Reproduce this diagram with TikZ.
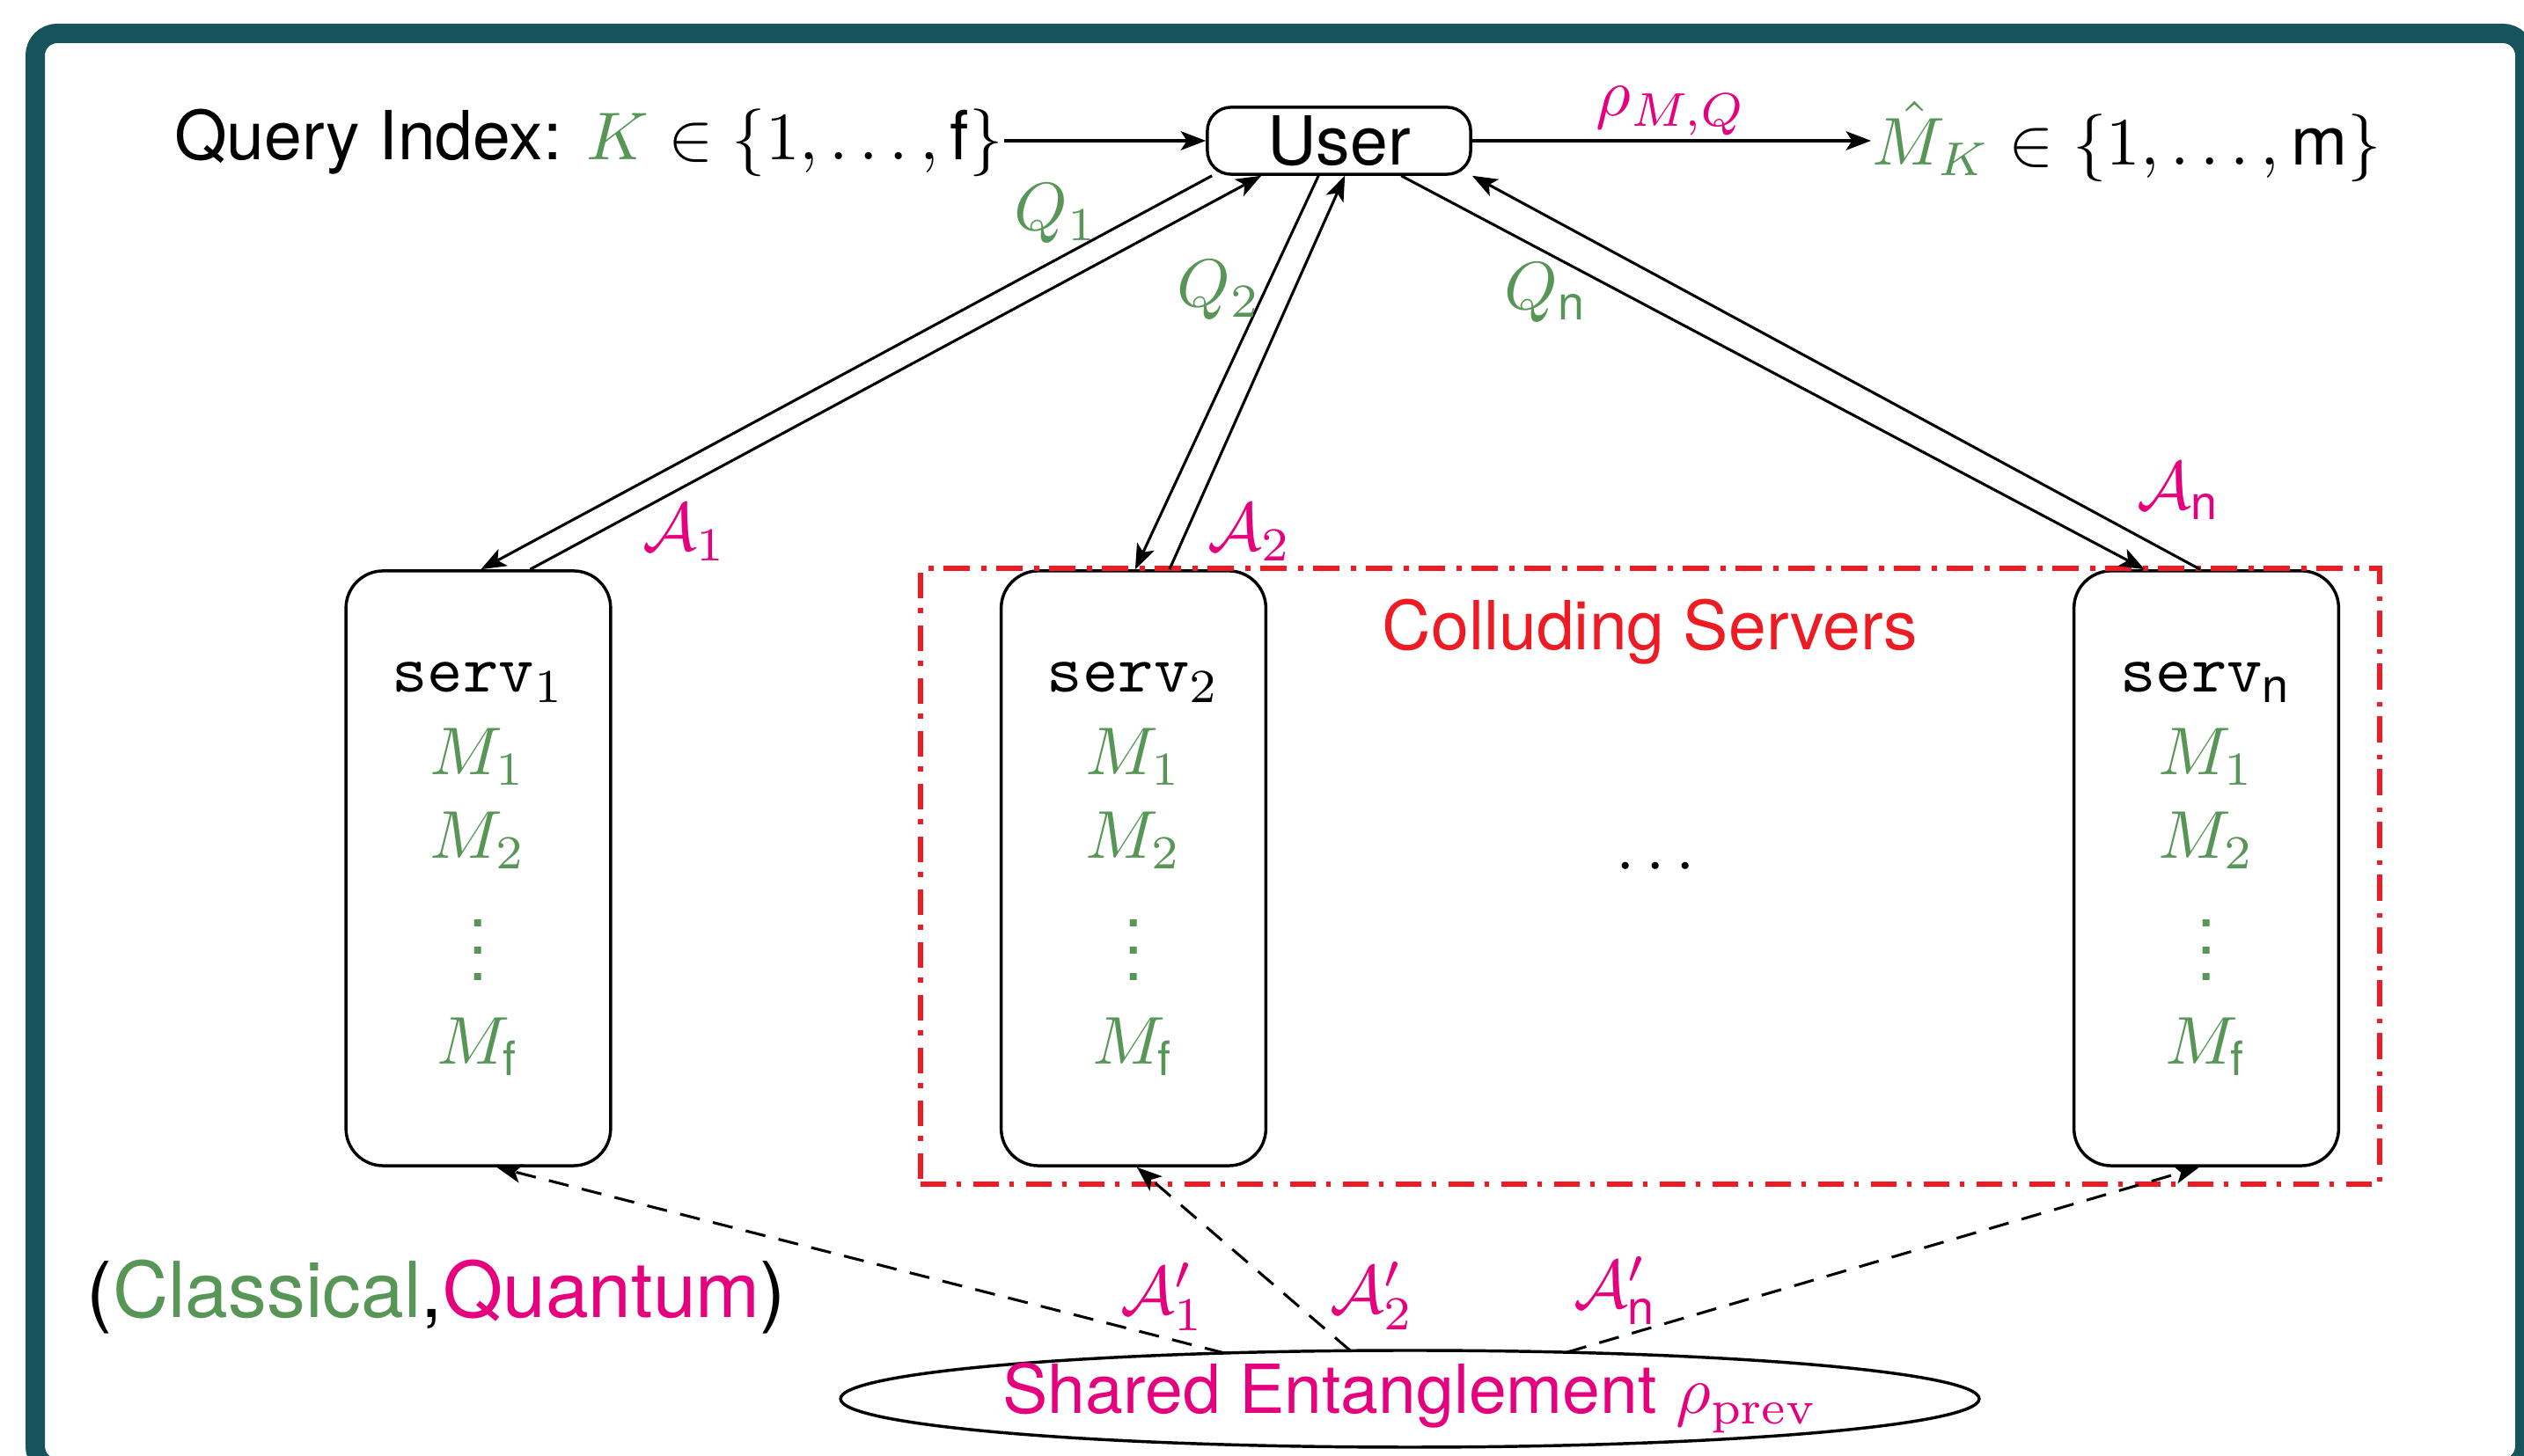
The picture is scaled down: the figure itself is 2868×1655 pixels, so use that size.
\documentclass[tikz,border=0pt]{standalone}
\usepackage{amsmath}
\usepackage[no-math]{fontspec}
\setmainfont{TeX Gyre Heros}
\setsansfont{TeX Gyre Heros}
\usetikzlibrary{arrows.meta,shapes.geometric,calc}
\definecolor{frameteal}{RGB}{22,83,90}
\definecolor{cgreen}{RGB}{88,150,88}
\definecolor{cmag}{RGB}{229,0,125}
\definecolor{cred}{RGB}{237,28,36}
\tikzset{
  arr/.style={-{Stealth[length=3.7pt,width=2.8pt,inset=0.9pt]}, line width=0.4pt},
  darr/.style={arr, dash pattern=on 3pt off 2pt},
  userbox/.style={draw, line width=0.45pt, rounded corners=3.5pt, minimum width=38.9pt, minimum height=9.9pt, inner sep=0pt},
  servbox/.style={draw, line width=0.45pt, rounded corners=5.5pt, minimum width=39.1pt, minimum height=87.9pt, inner sep=0pt},
  collbox/.style={draw=cred, line width=0.75pt, dash pattern=on 3.8pt off 1.5pt on 0.7pt off 1.8pt, minimum width=215.5pt, minimum height=91pt, inner sep=0pt},
  lbl/.style={inner sep=0pt},
  txt/.style={inner sep=0pt, anchor=base},
}
\begin{document}
\begin{tikzpicture}[x=0.13pt, y=0.13pt]
\useasboundingbox (0,0) rectangle (2868,-1655);
% outer frame
\draw[frameteal, line width=2.86pt, rounded corners=3.25pt] (40,-38) rectangle (2869,-1669);

% user and top line
\node[userbox] (user) at (1521.5,-160) {User};
\node[inner sep=0pt, anchor=base east] (query) at (1141,-182) {Query Index: $\textcolor{cgreen}{K}\in\{1,\ldots,\textsf{f}\}$};
\node[inner sep=0pt, anchor=base west] (mhat) at (2126,-188) {$\textcolor{cgreen}{\hat{M}_K}\in\{1,\ldots,\textsf{m}\}$};
\draw[arr] (query.east |- user.west) -- (user.west);
\draw[arr] (user.east) -- node[above=0pt, inner sep=0.6pt, text=cmag] (rho) {$\rho_{M,Q}$} (mhat.west |- user.east);

% servers
\foreach \i/\cx/\sub in {1/543.5/1, 2/1288/2, n/2507/\textsf{n}} {
  \node[servbox] (s\i) at (\cx,-987) {};
  \node[txt] (s\i-name) at (\cx,-787) {$\texttt{serv}_{\sub}$};
  \node[txt, text=cgreen] (s\i-m1) at (\cx,-881) {$M_1$};
  \node[txt, text=cgreen] (s\i-m2) at (\cx,-976) {$M_2$};
  \node[txt, text=cgreen] (s\i-vd) at (\cx,-1115) {$\vdots$};
  \node[txt, text=cgreen] (s\i-mf) at (\cx,-1210) {$M_{\textsf{f}}$};
}

% colluding box
\node[collbox] (coll) at (1875,-996) {};
\node[txt, text=cred] (colltext) at (1875,-739) {Colluding Servers};
\node[txt] (dots) at (1888,-1004) {$\cdots$};

% query / answer arrows
\draw[arr] ($(user.south west)+(7,0)$) -- ($(s1.north west)+(155,0)$);
\draw[arr] ($(s1.north west)+(211,0)$) -- ($(user.south west)+(63,0)$);
\draw[arr] ($(user.south west)+(128,0)$) -- ($(s2.north west)+(154,0)$);
\draw[arr] ($(s2.north west)+(193,0)$) -- ($(user.south west)+(158,0)$);
\draw[arr] ($(user.south west)+(222,0)$) -- ($(sn.north west)+(82,0)$);
\draw[arr] ($(sn.north west)+(145,0)$) -- (user.south east);

\node[lbl, text=cgreen] (q1) at (1200,-243) {$Q_1$};
\node[lbl, text=cgreen] (q2) at (1385,-330) {$Q_2$};
\node[lbl, text=cgreen] (qn) at (1757,-333) {$Q_{\textsf{n}}$};
\node[lbl, text=cmag] (a1) at (778,-605) {$\mathcal{A}_1$};
\node[lbl, text=cmag] (a2) at (1420,-605) {$\mathcal{A}_2$};
\node[lbl, text=cmag] (an) at (2476,-558) {$\mathcal{A}_{\textsf{n}}$};

% shared entanglement
\node[draw, ellipse, line width=0.45pt, minimum width=168.2pt, minimum height=14.3pt, inner sep=0pt] (ell) at (1602,-1590) {};
\node[txt, text=cmag] (elltext) at (1603,-1607) {Shared Entanglement $\rho_{\mathrm{prev}}$};
\draw[darr] ($(ell.center)+(109:647 and 55)$) -- ($(s1.south west)+(173,0)$);
\draw[darr] ($(ell.center)+(96:647 and 55)$) -- ($(s2.south west)+(156,0)$);
\draw[darr] ($(ell.center)+(74:647 and 55)$) -- ($(sn.south west)+(144,0)$);

\node[lbl, text=cmag] (ap1) at (1321,-1474) {$\mathcal{A}'_1$};
\node[lbl, text=cmag] (ap2) at (1559,-1473) {$\mathcal{A}'_2$};
\node[lbl, text=cmag] (apn) at (1836,-1467) {$\mathcal{A}'_{\textsf{n}}$};

\node[txt, font=\fontsize{11.4}{13}\selectfont] (cq) at (496,-1498) {(\textcolor{cgreen}{Classical},\textcolor{cmag}{Quantum})};
\end{tikzpicture}
\end{document}
